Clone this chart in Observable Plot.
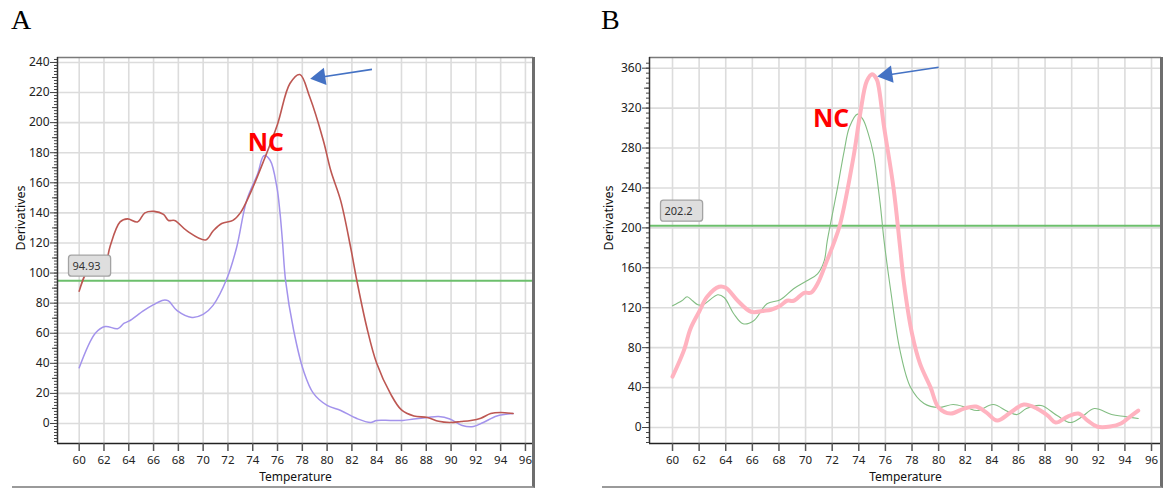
<!DOCTYPE html>
<html>
<head>
<meta charset="utf-8">
<script src="https://cdn.jsdelivr.net/npm/d3@7"></script>
<script src="https://cdn.jsdelivr.net/npm/@observablehq/plot@0.6"></script>
<style>
  html, body { margin: 0; padding: 0; background: #fff; }
  #wrap { position: relative; width: 1165px; height: 488px; background: #fff; overflow: hidden; }
  .panel { position: absolute; top: 0; }
  .lab { position: absolute; font-family: "Liberation Serif", "DejaVu Serif", serif; font-size: 28px; color: #000; line-height: 1; }
  .border { position: absolute; box-sizing: content-box; pointer-events: none; }
</style>
</head>
<body>
<div id="wrap">
  <div id="pa" class="panel" style="left:0px"></div>
  <div id="pb" class="panel" style="left:590px"></div>
  <div class="border" style="left:12px;top:57px;width:520px;height:429px;border-right:3px solid #6e6e6e;border-bottom:2px solid #9a9a9a"></div>
  <div class="border" style="left:602px;top:57px;width:558px;height:429px;border-right:3px solid #6e6e6e;border-bottom:2px solid #9a9a9a"></div>
  <div class="lab" style="left:11px;top:6px">A</div>
  <div class="lab" style="left:601px;top:6px">B</div>
</div>
<script>
// ---------- Panel A data ----------
const aRedT = [60, 60.9, 61.7, 62.1, 62.5, 63.3, 63.9, 64.7, 65.3, 66.05, 66.8, 67.2, 67.7, 68.7, 70.2, 70.8, 71.5, 72.4, 73, 73.8, 74.9, 76, 77, 77.8, 78.6, 79.7, 80.3, 81.1, 81.9, 82.4, 83.2, 84, 85.1, 86, 87, 88.1, 89, 89.9, 90.8, 91.6, 92.4, 93.2, 94, 95];
const aRedV = [88, 104, 102, 105, 118, 134, 136, 134, 140, 141, 139, 135, 135, 128, 122, 128, 133, 135, 140, 153, 175, 199, 226, 232, 217, 188, 168, 148, 117, 95, 64, 40, 20, 9, 5, 4, 1.5, 0.7, 1.3, 2, 3.5, 6.6, 7.3, 6.6];
const aPurT = [60, 61.3, 62.1, 63.1, 63.6, 64, 65.2, 66, 66.8, 67.2, 67.9, 69.1, 70, 70.8, 71.9, 72.7, 73.5, 74.4, 74.9, 75.4, 75.95, 76.2, 76.4, 76.65, 77.3, 78.1, 78.9, 80, 81.1, 82.4, 83.5, 84, 85.1, 86.1, 87, 88.1, 89, 89.9, 90.9, 91.8, 92.6, 93.7, 95];
const aPurV = [37, 60, 64.5, 63, 66.5, 68, 75, 79, 82, 81.5, 75, 70.5, 72.5, 78.5, 96, 117, 148, 166, 178, 175, 157, 140, 121, 95, 62, 35, 20, 12, 8.6, 3.3, 0.7, 2, 2, 2, 3, 4, 4.6, 3, -1.3, -2, 0.7, 5, 6.6];
const thrA = 94.93;
const thrLabelA = "94.93";
const xDomainA = [58.25, 96.65];
const yDomainA = [-13.3, 243.3];
const yTicksA = [0, 20, 40, 60, 80, 100, 120, 140, 160, 180, 200, 220, 240];
const yMidA = d3.range(10, 240, 20);
const yMinorA = d3.range(-12, 243, 2);
const ncA = {t: 75.05, v: 186.5};
const arrowA = {x1: 83.62, y1: 235.4, x2: 79.44, y2: 230.2};

// ---------- Panel B data ----------
const bPinkT = [60, 60.85, 61.35, 62, 62.6, 63.5, 64, 64.9, 65.9, 66.9, 67.4, 68.1, 68.6, 69.1, 69.9, 70.4, 70.9, 71.6, 72.1, 72.6, 73.6, 74.1, 74.6, 75, 75.2, 75.4, 75.9, 76.6, 77.1, 77.4, 78, 78.6, 79.4, 80, 80.9, 81.9, 82.8, 83.6, 84.4, 85.4, 86.4, 87.4, 88.2, 88.8, 89.7, 90.5, 91.2, 91.9, 92.9, 93.7, 94.3, 95];
const bPinkV = [51, 77, 99, 116, 131, 141, 140, 127, 116, 117, 118, 122, 127, 127, 135, 135, 144, 167, 184, 204, 271, 314, 347, 354, 352, 347, 301, 241, 181, 144, 94, 64, 40, 20, 14, 19, 21, 15, 7, 15, 23, 19, 12, 5, 11, 14, 7, 1, 1, 4, 10, 17];
const bGreenT = [60, 60.7, 61.1, 61.5, 61.9, 62.3, 63.4, 63.9, 64.6, 65.3, 66.1, 67.1, 68.1, 69.1, 70.1, 70.9, 71.4, 71.63, 72.4, 72.9, 73.3, 73.9, 74.3, 74.7, 75.1, 75.6, 75.9, 76.4, 77.1, 77.9, 78.9, 80, 81.1, 82.1, 82.9, 84.1, 85.2, 85.9, 86.6, 87.7, 88.9, 89.9, 90.7, 91.7, 93, 94, 95];
const bGreenV = [122, 127, 131, 127, 123, 123, 133, 130, 114, 104, 107, 124, 128, 139, 147, 154, 167, 187, 240, 277, 301, 314, 309, 295, 274, 225, 187, 137, 77, 40, 24, 20, 23, 20, 17, 23, 16, 13, 19, 22, 12, 5, 10, 19, 13, 11, 9];
const thrB = 202.2;
const thrLabelB = "202.2";
const xDomainB = [58.27, 96.75];
const yDomainB = [-16, 370.7];
const yTicksB = [0, 40, 80, 120, 160, 200, 240, 280, 320, 360];
const yMidB = d3.range(20, 370, 40);
const yMinorB = d3.range(-15, 370, 5);
const ncB = {t: 71.92, v: 309};
const arrowB = {x1: 80.0, y1: 361, x2: 76.14, y2: 353.2};

// ---------- shared ----------
const xTicks = d3.range(60, 97, 2);
const xLabel = "Temperature";
const yLabel = "Derivatives";
const FONT = "'Noto Sans', 'Open Sans', sans-serif";

const zip = (T, V) => T.map((t, i) => ({t, v: V[i]}));

function panel({xDomain, yDomain, yTicks, yMid, yMinor, series, thr, thrLabel, nc, arrow, width, marginLeft, marginRight, ylabDx}) {
  return Plot.plot({
    width, height: 488,
    marginTop: 57, marginBottom: 45, marginLeft, marginRight,
    style: {fontFamily: FONT, fontSize: "12px", color: "#222", background: "transparent", overflow: "visible"},
    x: {domain: xDomain, label: null},
    y: {domain: yDomain, label: null},
    marks: [
      Plot.gridX(xTicks, {stroke: "#dcdcdc", strokeOpacity: 1, strokeWidth: 1.6}),
      Plot.gridY(yTicks, {stroke: "#dcdcdc", strokeOpacity: 1, strokeWidth: 1.6}),
      Plot.ruleY([thr], {stroke: "#6cbf6c", strokeWidth: 2}),
      ...series.map(s => Plot.line(s.data, {x: "t", y: "v", stroke: s.color, strokeWidth: s.w, curve: "catmull-rom"})),
      Plot.text([thrLabel], {text: d => d, frameAnchor: "left", y: () => thr, dx: 15, dy: -14, textAnchor: "start", fontSize: 11, fill: "#333"}),
      Plot.text(["NC"], {x: () => nc.t, y: () => nc.v, text: d => d, fill: "#ff0000", fontWeight: "bold", fontSize: 25, fontFamily: "'Open Sans', sans-serif"}),
      Plot.link([arrow], {x1: "x1", y1: "y1", x2: "x2", y2: "y2", stroke: "#4472c4", strokeWidth: 1.6}),
      Plot.dot([arrow], {x: "x2", y: "y2", symbol: "triangle", r: 6.5, fill: "#4472c4", stroke: "none", rotate: -98.6}),
      Plot.ruleY([yDomain[1]], {stroke: "#7a7a7a", strokeWidth: 1.5}),
      Plot.ruleX([xDomain[0]], {stroke: "#333", strokeWidth: 1.5}),
      Plot.ruleY([yDomain[0]], {stroke: "#222", strokeWidth: 1.5}),
      Plot.axisY(yMinor, {tickSize: 3, tickFormat: () => "", label: null, stroke: "#444"}),
      Plot.axisY(yMid, {tickSize: 5, tickFormat: () => "", label: null, stroke: "#444"}),
      Plot.axisY(yTicks, {tickSize: 7, tickPadding: 1, label: null, stroke: "#444", fill: "#222", fontSize: 12}),
      Plot.axisX(xTicks, {tickSize: 8, tickPadding: 4, label: null, stroke: "#555", strokeWidth: 1.5, fill: "#222", fontSize: 11.5}),
      Plot.text([xLabel], {text: d => d, frameAnchor: "bottom", dy: 37, fontSize: 12, fill: "#111"}),
      Plot.text([yLabel], {text: d => d, frameAnchor: "left", dx: ylabDx, rotate: -90, fontSize: 12.5, fill: "#111"})
    ]
  });
}

function addBoxes(svg, labels) {
  const ns = "http://www.w3.org/2000/svg";
  svg.querySelectorAll("text").forEach(t => {
    if (labels.includes(t.textContent)) {
      const b = t.getBBox();
      const r = document.createElementNS(ns, "rect");
      r.setAttribute("x", b.x - 4);
      r.setAttribute("y", b.y + b.height / 2 - 10.5);
      r.setAttribute("width", Math.max(b.width + 14, 42));
      r.setAttribute("height", 21);
      r.setAttribute("rx", 3);
      r.setAttribute("fill", "#dedede");
      r.setAttribute("stroke", "#a3a3a3");
      r.setAttribute("stroke-width", 1.3);
      if (t.getAttribute("transform")) r.setAttribute("transform", t.getAttribute("transform"));
      t.parentNode.insertBefore(r, t);
    }
  });
}

const svgA = panel({
  xDomain: xDomainA, yDomain: yDomainA, yTicks: yTicksA, yMid: yMidA, yMinor: yMinorA,
  series: [
    {data: zip(aPurT, aPurV), color: "#a393ec", w: 1.5},
    {data: zip(aRedT, aRedV), color: "#bd5752", w: 1.6}
  ],
  thr: thrA, thrLabel: thrLabelA, nc: ncA, arrow: arrowA,
  width: 545, marginLeft: 57, marginRight: 12, ylabDx: -37
});
document.getElementById("pa").appendChild(svgA);
addBoxes(svgA, [thrLabelA]);

const svgB = panel({
  xDomain: xDomainB, yDomain: yDomainB, yTicks: yTicksB, yMid: yMidB, yMinor: yMinorB,
  series: [
    {data: zip(bGreenT, bGreenV), color: "#82bd82", w: 1.1},
    {data: zip(bPinkT, bPinkV), color: "#ffb3c0", w: 4}
  ],
  thr: thrB, thrLabel: thrLabelB, nc: ncB, arrow: arrowB,
  width: 575, marginLeft: 59, marginRight: 4, ylabDx: -41
});
document.getElementById("pb").appendChild(svgB);
addBoxes(svgB, [thrLabelB]);
</script>
</body>
</html>
